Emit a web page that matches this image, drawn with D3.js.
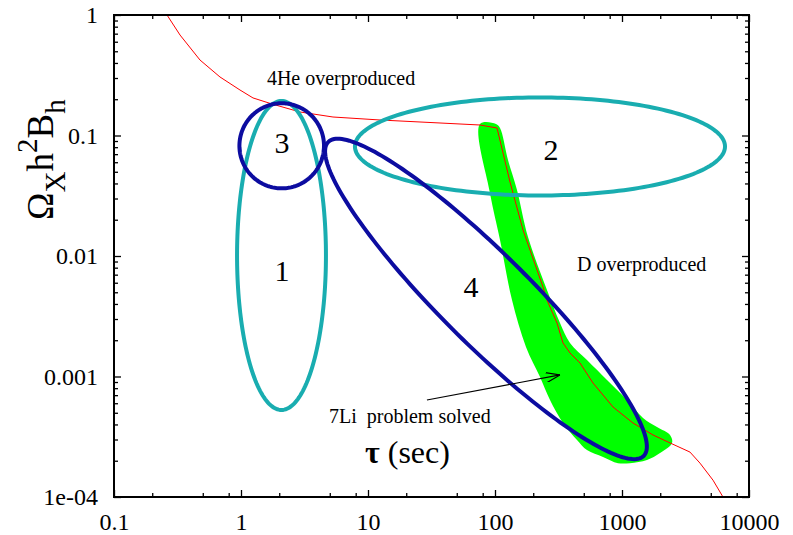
<!DOCTYPE html>
<html>
<head>
<meta charset="utf-8">
<script src="https://cdn.jsdelivr.net/npm/d3@7"></script>
<style>
body { margin: 0; background: #fff; }
text { font-family: "Liberation Serif", "Times New Roman", serif; fill: #000; }
</style>
</head>
<body>
<div id="chart"></div>
<script>
// red curve (tau in sec, Omega_X h^2 B_h)
var curveTau = [0.2615, 0.331, 0.4755, 0.683, 0.982, 1.243, 1.754, 2.914, 5.30, 12.43, 36.9, 76.2, 103.7,
  131.3, 166.2, 238.7, 256.6, 307.6, 343, 389.6, 467, 591, 850, 1221, 1755, 2388, 3430, 4113, 5206, 6240];
var curveOmega = [1, 0.682, 0.423, 0.306, 0.2385, 0.205, 0.1826, 0.1567, 0.1424, 0.1345, 0.127, 0.1222, 0.1154,
  0.0411, 0.01643, 0.00553, 0.00431, 0.00278, 0.0019, 0.001567, 0.001295, 0.000883, 0.000558, 0.000411,
  0.000327, 0.000281, 0.000236, 0.000191, 0.000138, 0.0001];

// green allowed band (outline)
var bandTau = [76.2, 101.8, 109.5, 126.6, 149, 181.9, 256.7, 325, 389.5, 530, 762, 1095, 1464, 1886, 2388,
  2476, 1992, 1573, 1156, 930, 708.6, 530, 442.3, 343, 271.1, 226.2, 175.4, 136.1, 109.5, 91.3];
var bandOmega = [0.1246, 0.1246, 0.1154, 0.0626, 0.0353, 0.01438, 0.00522, 0.00278, 0.0019, 0.00137, 0.000936,
  0.000638, 0.000453, 0.000381, 0.000327, 0.000281, 0.000232, 0.000203, 0.000191, 0.000191, 0.000215,
  0.000245, 0.000297, 0.000411, 0.000638, 0.00099, 0.00176, 0.00431, 0.01358, 0.0333];

// regions: centre, semi-axes (decades), tilt (deg, log space)
var ellipseTau = [2.084, 226, 2.092, 84.9];
var ellipseOmega = [0.0101, 0.0811, 0.0821, 0.0044];
var ellipseA = [0.350, 1.457, 0.333, 1.80];
var ellipseB = [1.282, 0.407, 0.353, 0.364];
var ellipseAngle = [0, 0, 0, -46.5];
var ellipseColor = ["#19adb0", "#19adb0", "#0c0ca0", "#0c0ca0"];

var labelText = ["1", "2", "3", "4", "4He overproduced", "D overproduced", "7Li  problem solved"];
var labelTau = [2.103, 276, 2.103, 64.7, 1.60, 442, 4.93];
var labelOmega = [0.0062, 0.0626, 0.0716, 0.00457, 0.2625, 0.0075, 0.000411];

var arrowTau = [29.1, 325];
var arrowOmega = [0.000638, 0.00103];

var xTicks = [0.1, 1, 10, 100, 1000, 10000];
var xTickLabels = ["0.1", "1", "10", "100", "1000", "10000"];
var xMinorSteps = [2, 5, 8];
var yTicks = [0.0001, 0.001, 0.01, 0.1, 1];
var yTickLabels = ["1e-04", "0.001", "0.01", "0.1", "1"];
var yMinorSteps = [2, 3, 4, 5, 6, 7, 8, 9];

var margin = {top: 15, right: 44, bottom: 38, left: 114},
    width = 793 - margin.left - margin.right,
    height = 535 - margin.top - margin.bottom;

var x = d3.scaleLog().domain([0.1, 10000]).range([0, width]);
var y = d3.scaleLog().domain([0.0001, 1]).range([height, 0]);

var svg = d3.select("#chart").append("svg")
    .attr("width", 793)
    .attr("height", 535)
  .append("g")
    .attr("transform", "translate(" + margin.left + "," + margin.top + ")");

svg.append("defs").append("clipPath").attr("id", "clip")
  .append("rect").attr("width", width).attr("height", height);

var xMinor = [], yMinor = [];
xTicks.slice(0, -1).forEach(function(d) { xMinorSteps.forEach(function(s) { xMinor.push(d * s); }); });
yTicks.slice(0, -1).forEach(function(d) { yMinorSteps.forEach(function(s) { yMinor.push(d * s); }); });

var plot = svg.append("g").attr("clip-path", "url(#clip)");

var line = d3.line()
    .x(function(d) { return x(d[0]); })
    .y(function(d) { return y(d[1]); });

// green band
plot.append("path")
    .datum(bandTau.map(function(t, i) { return [t, bandOmega[i]]; }))
    .attr("d", line.curve(d3.curveCatmullRomClosed.alpha(0.5)))
    .attr("fill", "#00ff00")
    .attr("stroke", "none");

// red curve
plot.append("path")
    .datum(curveTau.map(function(t, i) { return [t, curveOmega[i]]; }))
    .attr("d", line.curve(d3.curveLinear))
    .attr("fill", "none")
    .attr("stroke", "#ff0000")
    .attr("stroke-width", 1);

function ellipsePoints(i) {
  var pts = [], n = 200, th = ellipseAngle[i] * Math.PI / 180;
  var lx0 = Math.log10(ellipseTau[i]), ly0 = Math.log10(ellipseOmega[i]);
  for (var k = 0; k < n; k++) {
    var t = 2 * Math.PI * k / n,
        u = ellipseA[i] * Math.cos(t),
        v = ellipseB[i] * Math.sin(t);
    pts.push([Math.pow(10, lx0 + u * Math.cos(th) - v * Math.sin(th)),
              Math.pow(10, ly0 + u * Math.sin(th) + v * Math.cos(th))]);
  }
  return pts;
}

ellipseTau.forEach(function(d, i) {
  plot.append("path")
      .datum(ellipsePoints(i))
      .attr("d", line.curve(d3.curveLinearClosed))
      .attr("fill", "none")
      .attr("stroke", ellipseColor[i])
      .attr("stroke-width", 4);
});

// arrow
svg.append("defs").append("marker")
    .attr("id", "head")
    .attr("viewBox", "0 0 14 10")
    .attr("refX", 14).attr("refY", 5)
    .attr("markerWidth", 14).attr("markerHeight", 10)
    .attr("markerUnits", "userSpaceOnUse")
    .attr("orient", "auto")
  .append("path")
    .attr("d", "M0,0 L14,5 L0,10")
    .attr("fill", "none")
    .attr("stroke", "#000")
    .attr("stroke-width", 1.2);

svg.append("line")
    .attr("x1", x(arrowTau[0])).attr("y1", y(arrowOmega[0]))
    .attr("x2", x(arrowTau[1])).attr("y2", y(arrowOmega[1]))
    .attr("stroke", "#000")
    .attr("stroke-width", 1.2)
    .attr("marker-end", "url(#head)");

// labels
labelText.forEach(function(t, i) {
  svg.append("text")
      .attr("x", x(labelTau[i]))
      .attr("y", y(labelOmega[i]))
      .attr("text-anchor", i < 4 ? "middle" : "start")
      .style("font-size", i < 4 ? "30px" : "20px")
      .style("white-space", "pre")
      .text(t);
});

// x title inside plot
var xt = svg.append("text")
    .attr("x", x(9.47))
    .attr("y", y(0.000191))
    .style("font-size", "32px");
xt.append("tspan").style("font-weight", "bold").text("τ");
xt.append("tspan").text(" (sec)");

// y title
var yt = svg.append("text")
    .attr("transform", "translate(" + (53 - margin.left) + "," + (220 - margin.top) + ") rotate(-90)")
    .style("font-size", "37px");
yt.append("tspan").text("Ω");
yt.append("tspan").attr("dy", 12).style("font-size", "29px").text("X");
yt.append("tspan").attr("dy", -12).text("h");
yt.append("tspan").attr("dy", -16).style("font-size", "29px").text("2");
yt.append("tspan").attr("dy", 16).text("B");
yt.append("tspan").attr("dy", 12).style("font-size", "29px").text("h");

// axes: inward ticks on all sides
function styleAxis(g) {
  g.select(".domain").remove();
  g.selectAll("line").attr("stroke", "#000").attr("stroke-width", 1.3);
  g.selectAll("text").style("font-size", "24px").style("font-family", "Liberation Serif, serif");
}

svg.append("g").attr("transform", "translate(0," + height + ")")
    .call(d3.axisBottom(x).tickValues(xTicks).tickFormat(function(d, i) { return xTickLabels[i]; })
      .tickSize(-7).tickPadding(16)).call(styleAxis);
svg.append("g").attr("transform", "translate(0," + height + ")")
    .call(d3.axisBottom(x).tickValues(xMinor).tickFormat("").tickSize(-4)).call(styleAxis);
svg.append("g")
    .call(d3.axisTop(x).tickValues(xTicks).tickFormat("").tickSize(-7)).call(styleAxis);
svg.append("g")
    .call(d3.axisTop(x).tickValues(xMinor).tickFormat("").tickSize(-4)).call(styleAxis);

svg.append("g")
    .call(d3.axisLeft(y).tickValues(yTicks).tickFormat(function(d, i) { return yTickLabels[i]; })
      .tickSize(-7).tickPadding(16)).call(styleAxis);
svg.append("g")
    .call(d3.axisLeft(y).tickValues(yMinor).tickFormat("").tickSize(-4)).call(styleAxis);
svg.append("g").attr("transform", "translate(" + width + ",0)")
    .call(d3.axisRight(y).tickValues(yTicks).tickFormat("").tickSize(-7)).call(styleAxis);
svg.append("g").attr("transform", "translate(" + width + ",0)")
    .call(d3.axisRight(y).tickValues(yMinor).tickFormat("").tickSize(-4)).call(styleAxis);

svg.append("rect")
    .attr("width", width)
    .attr("height", height)
    .attr("fill", "none")
    .attr("stroke", "#000")
    .attr("stroke-width", 2);
</script>
</body>
</html>
